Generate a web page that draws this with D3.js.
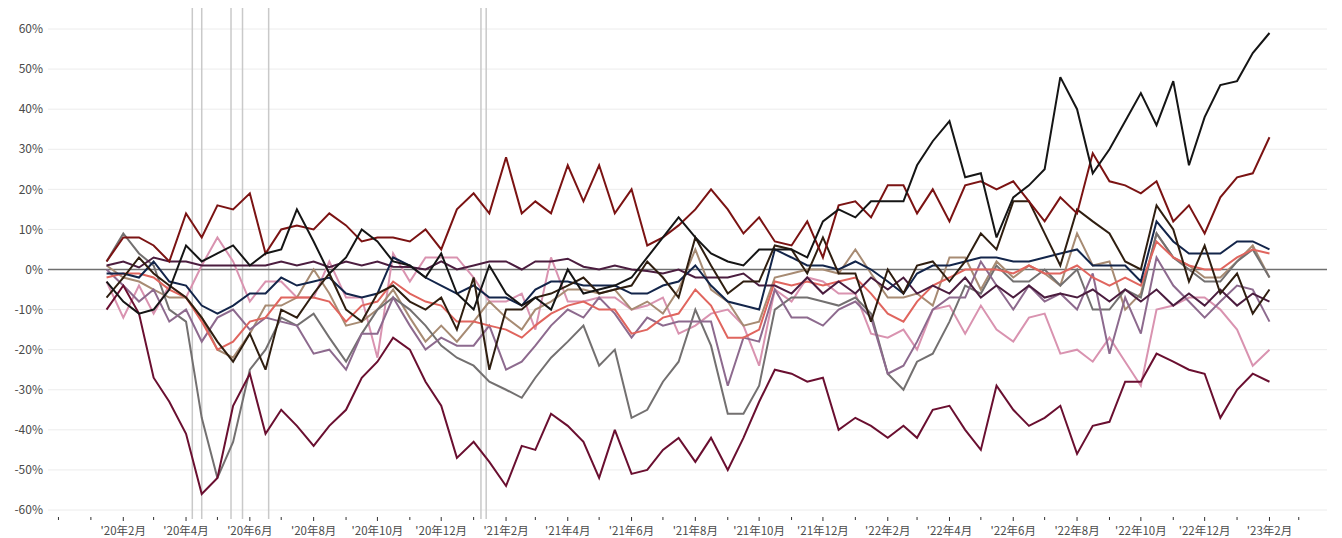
<!DOCTYPE html>
<html>
<head>
<meta charset="utf-8">
<script src="https://cdn.jsdelivr.net/npm/d3@7"></script>
<style>
  body { margin: 0; background: #fff; }
  svg { display: block; font-family: "Noto Sans CJK JP", "Noto Sans", sans-serif; }
</style>
</head>
<body>
<svg id="chart" width="1342" height="538"></svg>
<script>
// Semi-monthly periods: the 16th of Jan 2020, then alternating 1st / 16th, up to 1 Feb 2023
const periods = d3.range(74).map(i =>
  i % 2 === 0 ? new Date(2020, i / 2, 16) : new Date(2020, (i + 1) / 2, 1));

// Year-over-year change (%) per series
const seriesBlack = [-3,-8,-11,-10,-5,6,2,4,6,1, 4,5,15,7,-1,3,10,7,2,1, -2,4,-6,-10,1,-6,-9,-7,-10,0,
  -6,-5,-4,-2,3,8,13,8,4,2, 1,5,5,5,3,12,15,13,17,17, 17,26,32,37,23,24,8,18,21,25,
  48,40,24,30,37,44,36,47,26,38, 46,47,54,59];
const seriesDarkRed = [2,8,8,6,2,14,8,16,15,19, 4,10,11,10,14,11,7,8,8,7, 10,5,15,19,14,28,14,17,14,26,
  17,26,14,20,6,8,11,15,20,15, 9,13,7,6,12,3,16,17,13,21, 21,14,20,12,21,22,20,22,17,12,
  18,14,29,22,21,19,22,12,16,9, 18,23,24,33];
const seriesUmber = [-7,-2,3,-1,-4,-7,-12,-18,-23,-16, -25,-10,-12,-6,-1,-10,-13,-6,-4,-8, -10,-7,-15,-2,-25,-10,-10,-7,-6,-4,
  -2,-6,-5,-4,2,-2,-7,8,1,-6, -3,-3,6,5,-1,8,-1,-1,-13,0, -6,1,2,-3,2,9,5,17,17,9,
  1,15,12,9,2,0,16,10,-3,6, -6,-1,-11,-5];
const seriesNavy = [-1,-1,-2,2,-3,-4,-9,-11,-9,-6, -6,-2,-4,-3,-2,-6,-7,-6,3,1, -2,-4,-6,-4,-7,-7,-9,-5,-3,-3,
  -4,-4,-4,-6,-6,-4,-3,1,-4,-8, -9,-10,5,3,1,1,0,2,0,-3, -6,-1,1,1,2,3,3,2,2,3,
  4,5,1,1,1,-3,12,7,4,4, 4,7,7,5];
const seriesSalmon = [-2,-1,-1,-2,-5,-7,-13,-20,-18,-13, -12,-7,-7,-7,-8,-13,-9,-8,-3,-6, -8,-9,-13,-13,-14,-15,-17,-14,-11,-9,
  -8,-10,-10,-16,-15,-12,-11,-5,-9,-17, -17,-15,-3,-4,-3,-4,-3,-2,-6,-11, -13,-8,-4,-2,0,0,0,-1,1,-1,
  -1,1,-2,-4,-2,-4,7,3,1,0, 0,3,5,4];
const seriesTan = [1,-2,-3,-5,-7,-7,-12,-20,-22,-16, -9,-9,-7,0,-6,-14,-13,-10,-5,-12, -18,-14,-18,-13,-8,-12,-15,-10,-8,-5,
  -5,-6,-5,-10,-8,-11,-5,5,-5,-8, -14,-13,-2,-1,0,0,-1,5,-1,-7, -7,-6,-9,3,3,-5,2,-2,1,-1,
  -4,9,1,2,-10,-6,9,3,1,-2, -2,2,6,-2];
const seriesGray = [2,9,4,1,-10,-13,-37,-52,-43,-25, -20,-12,-14,-11,-17,-23,-16,-10,-7,-10, -14,-19,-22,-24,-28,-30,-32,-27,-22,-18,
  -14,-24,-20,-37,-35,-28,-23,-10,-19,-36, -36,-29,-10,-7,-7,-8,-9,-7,-11,-26, -30,-23,-21,-13,-4,-6,1,-3,-3,0,
  -4,0,-10,-10,-5,-7,9,3,0,-3, -3,2,5,-2];
const seriesMauve = [0,-4,-8,-5,-13,-10,-18,-12,-10,-15, -12,-13,-14,-21,-20,-25,-16,-16,-7,-14, -20,-17,-19,-19,-14,-25,-23,-19,-14,-10,
  -12,-7,-11,-17,-12,-14,-13,-13,-13,-29, -17,-18,-5,-12,-12,-14,-10,-8,-12,-26, -24,-18,-10,-7,-7,2,-4,-10,-4,-8,
  -6,-10,-1,-21,-7,-16,3,-4,-8,-12, -8,-4,-5,-13];
const seriesPink = [-3,-12,-4,-11,-4,-7,1,8,2,-8, -3,-3,-7,-7,2,-7,-7,-22,4,-3, 3,3,3,-2,-8,-8,-6,-15,3,-8,
  -8,-7,-7,-10,-9,-7,-16,-14,-11,-10, -14,-24,-5,-8,-2,-3,-6,-6,-16,-17, -15,-20,-10,-9,-16,-9,-15,-18,-12,-11,
  -21,-20,-23,-17,-23,-29,-10,-9,-7,-7, -10,-15,-24,-20];
const seriesPlum = [1,2,0.5,3,2,2,1,1,1,1, 1,2,1,2,0.6,2,1,2,0.7,0.6, 0,2,0,1,2,2,0,2,2,2.7,
  0.7,0,1,0,-0.4,-1,0,-2,-2,-2, -1,-4,-4,-6,-2,-6,-3,-6,-2,-5, -2,-6,-4,-6,-2,-7,-4,-7,-4,-7,
  -6,-7,-5,-8,-5,-8,-5,-9,-6,-9, -5,-9,-6,-8];
const seriesMaroon = [-10,-4,-11,-27,-33,-41,-56,-52,-34,-26, -41,-35,-39,-44,-39,-35,-27,-23,-17,-20, -28,-34,-47,-43,-48,-54,-44,-45,-36,-39,
  -43,-52,-40,-51,-50,-45,-42,-48,-42,-50, -42,-33,-25,-26,-28,-27,-40,-37,-39,-42, -39,-42,-35,-34,-40,-45,-29,-35,-39,-37,
  -34,-46,-39,-38,-28,-28,-21,-23,-25,-26, -37,-30,-26,-28];

// Event dates marked with vertical rules
const eventDates = ["2020-04-07", "2020-04-16", "2020-05-14", "2020-05-25", "2020-06-19", "2021-01-08", "2021-01-13"];

const yTicks = [-60, -50, -40, -30, -20, -10, 0, 10, 20, 30, 40, 50, 60];

// Drawing order: lighter lines underneath, dark ones on top
const series = [
  { values: seriesPink,    color: "#d993b0" },
  { values: seriesTan,     color: "#a78b73" },
  { values: seriesGray,    color: "#737070" },
  { values: seriesMauve,   color: "#8d6a8e" },
  { values: seriesSalmon,  color: "#e0655e" },
  { values: seriesPlum,    color: "#4b1d3f" },
  { values: seriesMaroon,  color: "#6a0f30" },
  { values: seriesNavy,    color: "#13254a" },
  { values: seriesUmber,   color: "#2f1e10" },
  { values: seriesDarkRed, color: "#7b1313" },
  { values: seriesBlack,   color: "#151515" }
];

const svg = d3.select("#chart");
const plotLeft = 48, plotRight = 1327, plotTop = 29, plotBottom = 510;

const x = d3.scaleTime()
  .domain([new Date(2019, 10, 21), new Date(2023, 2, 28)])
  .range([plotLeft, plotRight]);
const y = d3.scaleLinear().domain([-60, 60]).range([plotBottom, plotTop]);

// Horizontal grid
svg.append("g")
  .selectAll("line")
  .data(yTicks.filter(d => d !== 0))
  .join("line")
  .attr("x1", plotLeft).attr("x2", plotRight)
  .attr("y1", d => y(d)).attr("y2", d => y(d))
  .attr("stroke", "#ececec").attr("stroke-width", 1);

// Y labels
svg.append("g")
  .selectAll("text")
  .data(yTicks)
  .join("text")
  .attr("x", 43).attr("y", d => y(d))
  .attr("dy", "0.35em")
  .attr("text-anchor", "end")
  .attr("fill", "#4a4a4a")
  .attr("font-size", 12)
  .text(d => d + "%");

// Event rules
svg.append("g")
  .selectAll("line")
  .data(eventDates.map(d => d3.isoParse(d)))
  .join("line")
  .attr("x1", d => x(d)).attr("x2", d => x(d))
  .attr("y1", 8).attr("y2", 519)
  .attr("stroke", "#c9c9c9").attr("stroke-width", 1.5);

// Zero line
svg.append("line")
  .attr("x1", plotLeft).attr("x2", plotRight)
  .attr("y1", y(0)).attr("y2", y(0))
  .attr("stroke", "#6f6f6f").attr("stroke-width", 1.5);

// X axis: monthly ticks, labels every other month from Feb 2020
const months = d3.timeMonth.range(new Date(2019, 11, 1), new Date(2023, 2, 2));
const labelMonths = months.filter(d => d >= new Date(2020, 1, 1) && d.getMonth() % 2 === 1);
const xAxis = svg.append("g").attr("transform", `translate(0,${plotBottom + 7})`);
xAxis.selectAll("line")
  .data(months)
  .join("line")
  .attr("x1", d => x(d)).attr("x2", d => x(d))
  .attr("y1", 0).attr("y2", d => labelMonths.includes(d) ? 4 : 3)
  .attr("stroke", "#333").attr("stroke-width", 1);
xAxis.selectAll("text")
  .data(labelMonths)
  .join("text")
  .attr("x", d => x(d)).attr("y", 18)
  .attr("text-anchor", "middle")
  .attr("fill", "#4a4a4a")
  .attr("font-size", 11.5)
  .text(d => "'" + String(d.getFullYear()).slice(2) + "年" + (d.getMonth() + 1) + "月");

// Series lines
const line = d3.line()
  .x((d, i) => x(periods[i]))
  .y(d => y(d));

svg.append("g")
  .selectAll("path")
  .data(series)
  .join("path")
  .attr("d", s => line(s.values))
  .attr("fill", "none")
  .attr("stroke", s => s.color)
  .attr("stroke-width", 2)
  .attr("stroke-linejoin", "miter")
  .attr("stroke-miterlimit", 3);
</script>
</body>
</html>
